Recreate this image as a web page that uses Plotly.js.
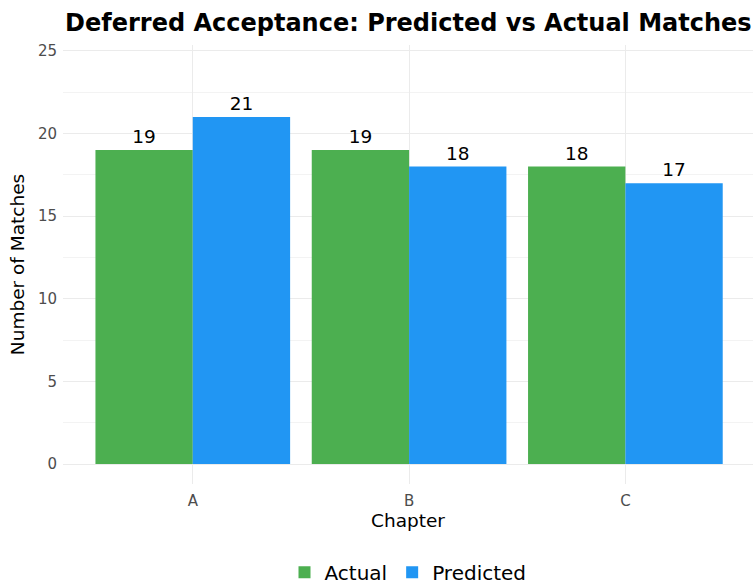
<!DOCTYPE html>
<html>
<head>
<meta charset="utf-8">
<script src="https://cdn.plot.ly/plotly-3.0.1.min.js"></script>
<style>html,body{margin:0;padding:0;background:#fff;}#chart{width:753px;height:587px;}</style>
</head>
<body>
<div id="chart"></div>
<script>
const chapters = ["A", "B", "C"];
const actual = [19, 19, 18];
const predicted = [21, 18, 17];
const yTicks = [0, 5, 10, 15, 20, 25];

const font = "DejaVu Sans, sans-serif";
const traces = [
  {type: "bar", name: "Actual", x: chapters, y: actual, marker: {color: "#4CAF50"},
   text: actual.map(String), textposition: "outside", cliponaxis: false,
   textfont: {family: font, size: 18.5, color: "#000"}, hoverinfo: "x+y"},
  {type: "bar", name: "Predicted", x: chapters, y: predicted, marker: {color: "#2196F3"},
   text: predicted.map(String), textposition: "outside", cliponaxis: false,
   textfont: {family: font, size: 18.5, color: "#000"}, hoverinfo: "x+y"}
];

const layout = {
  width: 753, height: 587,
  margin: {l: 63, r: 0, t: 45, b: 103},
  paper_bgcolor: "#fff", plot_bgcolor: "#fff",
  font: {family: font, color: "#000"},
  barmode: "group", bargap: 0.1, bargroupgap: 0,
  title: {text: "<b>Deferred Acceptance: Predicted vs Actual Matches</b>",
          font: {family: font, size: 24, color: "#000"},
          x: 0.003, xref: "paper", xanchor: "left", y: 21, yref: "container", yanchor: "middle"},
  xaxis: {
    type: "category", range: [-0.6, 2.59],
    showgrid: true, gridcolor: "#ebebeb", gridwidth: 1.2,
    zeroline: false, showline: false, ticks: "", ticklabelstandoff: 6,
    tickfont: {family: font, size: 15, color: "#4d4d4d"},
    title: {text: "Chapter", font: {family: font, size: 18.5, color: "#000"}, standoff: 4}
  },
  yaxis: {
    range: [-1.21, 25.36], tickvals: yTicks, ticktext: yTicks.map(String),
    showgrid: true, gridcolor: "#ebebeb", gridwidth: 1.2,
    minor: {dtick: 2.5, tick0: 0, showgrid: true, gridcolor: "#f3f3f3", gridwidth: 0.6, ticks: ""},
    zeroline: false, showline: false, ticks: "", ticklabelstandoff: 5,
    tickfont: {family: font, size: 15, color: "#4d4d4d"},
    title: {text: "Number of Matches", font: {family: font, size: 18.5, color: "#000"}, standoff: 8}
  },
  legend: {orientation: "h", x: 0.5, xanchor: "center", xref: "paper",
           y: 0.025, yanchor: "middle", yref: "container",
           font: {family: font, size: 20, color: "#000"}},
  showlegend: true
};

Plotly.newPlot("chart", traces, layout, {displayModeBar: false, responsive: false});
</script>
</body>
</html>
